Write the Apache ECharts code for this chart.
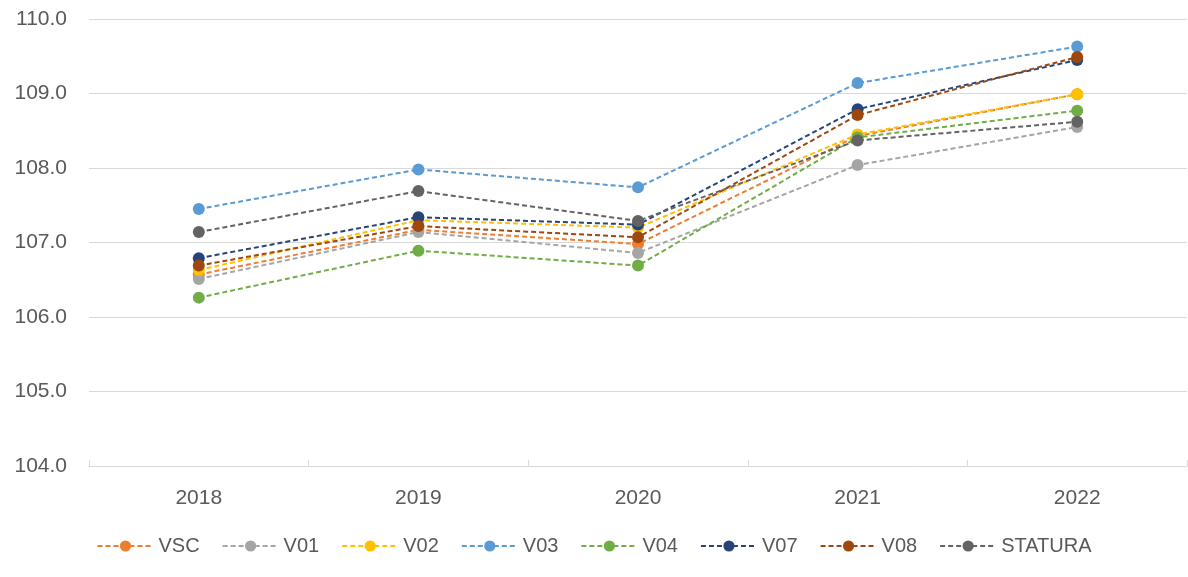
<!DOCTYPE html>
<html>
<head>
<meta charset="utf-8">
<script src="https://cdn.jsdelivr.net/npm/echarts@6/dist/echarts.min.js"></script>
<style>html,body{margin:0;padding:0;background:#fff}#c{width:1188px;height:577px}</style>
</head>
<body>
<div id="c"></div>
<script>
const categories = ['2018', '2019', '2020', '2021', '2022'];
const seriesNames = ['VSC', 'V01', 'V02', 'V03', 'V04', 'V07', 'V08', 'STATURA'];
const VSC     = [106.57, 107.17, 106.98, 108.43, 108.99];
const V01     = [106.51, 107.14, 106.86, 108.04, 108.55];
const V02     = [106.63, 107.30, 107.20, 108.45, 108.99];
const V03     = [107.45, 107.98, 107.74, 109.14, 109.63];
const V04     = [106.26, 106.89, 106.69, 108.41, 108.77];
const V07     = [106.79, 107.34, 107.24, 108.79, 109.45];
const V08     = [106.69, 107.22, 107.07, 108.71, 109.49];
const STATURA = [107.14, 107.69, 107.29, 108.37, 108.62];
const yTicks = { min: 104, max: 110, step: 1 };

const seriesData = [VSC, V01, V02, V03, V04, V07, V08, STATURA];
const colors = ['#ED7D31', '#A5A5A5', '#FFC000', '#5B9BD5', '#70AD47', '#264478', '#9E480E', '#636363'];
const FONT = 'Liberation Sans';

const chart = echarts.init(document.getElementById('c'), null, { renderer: 'canvas' });
chart.setOption({
  animation: false,
  backgroundColor: '#fff',
  color: colors,
  grid: { left: 89, right: 1, top: 19, bottom: 111, containLabel: false },
  legend: {
    bottom: 16,
    left: 'center',
    itemWidth: 56,
    itemHeight: 14,
    itemGap: 22,
    textStyle: { color: '#595959', fontSize: 20, fontFamily: FONT },
    data: seriesNames
  },
  xAxis: {
    type: 'category',
    data: categories,
    boundaryGap: true,
    axisLine: { lineStyle: { color: '#D9D9D9', width: 1 } },
    axisTick: { show: true, inside: true, length: 6, lineStyle: { color: '#D9D9D9' } },
    axisLabel: { color: '#595959', fontSize: 21, fontFamily: FONT, margin: 22 }
  },
  yAxis: {
    type: 'value',
    min: yTicks.min,
    max: yTicks.max,
    interval: yTicks.step,
    axisLine: { show: false },
    axisTick: { show: false },
    splitLine: { lineStyle: { color: '#D9D9D9', width: 1 } },
    axisLabel: { color: '#595959', fontSize: 21, fontFamily: FONT, margin: 22, formatter: v => v.toFixed(1) }
  },
  series: seriesNames.map((n, i) => ({
    name: n,
    type: 'line',
    data: seriesData[i],
    symbol: 'circle',
    symbolSize: 12,
    lineStyle: { width: 2, type: [5, 3], color: colors[i] },
    itemStyle: { color: colors[i] },
    z: 2 + i
  }))
});
</script>
</body>
</html>
